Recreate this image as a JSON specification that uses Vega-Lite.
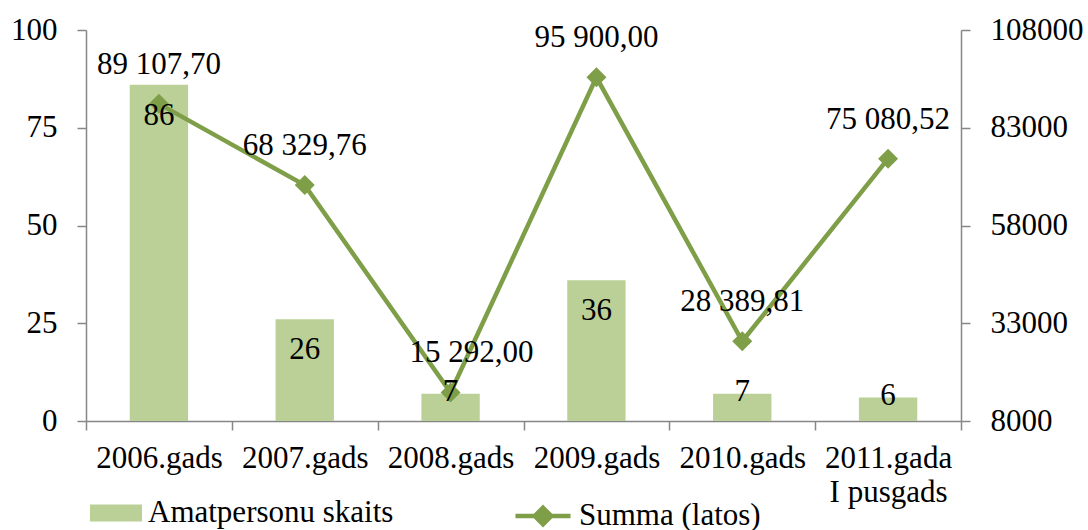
{
  "$schema": "https://vega.github.io/schema/vega-lite/v6.json",
  "width": 875,
  "height": 391,
  "autosize": {"type": "none"},
  "padding": {"left": 86, "top": 30, "right": 127, "bottom": 109},
  "config": {
    "font": "Liberation Serif",
    "view": {"stroke": null},
    "locale": {"number": {"decimal": ",", "thousands": " ", "grouping": [3], "currency": ["", ""]}},
    "axis": {
      "domainColor": "#868686",
      "tickColor": "#868686",
      "domainWidth": 1.5,
      "tickWidth": 1.5,
      "tickSize": 9,
      "labelFont": "Liberation Serif",
      "labelFontSize": 31,
      "labelColor": "#000000",
      "grid": false,
      "title": null
    },
    "legend": {
      "labelFont": "Liberation Serif",
      "labelFontSize": 31,
      "labelColor": "#000000",
      "labelOffset": 6,
      "labelLimit": 500,
      "padding": 0
    }
  },
  "data": {
    "values": [
      {"period": "2006.gads", "amatpersonu": 86, "summa": 89107.70},
      {"period": "2007.gads", "amatpersonu": 26, "summa": 68329.76},
      {"period": "2008.gads", "amatpersonu": 7, "summa": 15292.00},
      {"period": "2009.gads", "amatpersonu": 36, "summa": 95900.00},
      {"period": "2010.gads", "amatpersonu": 7, "summa": 28389.81},
      {"period": "2011.gada I pusgads", "amatpersonu": 6, "summa": 75080.52}
    ]
  },
  "encoding": {
    "x": {
      "field": "period",
      "type": "nominal",
      "sort": null,
      "scale": {
        "domain": ["2006.gads", "2007.gads", "2008.gads", "2009.gads", "2010.gads", "2011.gada I pusgads"],
        "paddingInner": 0,
        "paddingOuter": 0
      },
      "axis": {
        "tickBand": "extent",
        "labelAngle": 0,
        "labelPadding": 13,
        "labelLineHeight": 34,
        "labelOverlap": false,
        "labelExpr": "datum.label == '2011.gada I pusgads' ? ['2011.gada', 'I pusgads'] : datum.label"
      }
    }
  },
  "layer": [
    {
      "mark": {"type": "bar", "width": {"band": 0.4}, "color": "#BAD097"},
      "encoding": {
        "y": {
          "field": "amatpersonu",
          "type": "quantitative",
          "scale": {"domain": [0, 100], "nice": false},
          "axis": {"orient": "left", "values": [0, 25, 50, 75, 100], "labelPadding": 20}
        },
        "fill": {
          "datum": "Amatpersonu skaits",
          "type": "nominal",
          "scale": {"range": ["#BAD097"]},
          "legend": {
            "title": null,
            "orient": "none",
            "legendX": 4,
            "legendY": 457,
            "symbolType": "M-1,-0.327H1V0.327H-1Z",
            "symbolSize": 2704,
            "symbolStrokeWidth": 0
          }
        }
      }
    },
    {
      "encoding": {
        "y": {
          "field": "summa",
          "type": "quantitative",
          "scale": {"domain": [8000, 108000], "nice": false, "zero": false},
          "axis": {"orient": "right", "values": [8000, 33000, 58000, 83000, 108000], "format": "d", "labelPadding": 20}
        }
      },
      "layer": [
        {
          "mark": {"type": "line", "strokeWidth": 4.5, "color": "#7E9E48"},
          "encoding": {
            "stroke": {
              "datum": "Summa (latos)",
              "type": "nominal",
              "scale": {"range": ["#7E9E48"]},
              "legend": {
                "title": null,
                "orient": "none",
                "legendX": 427,
                "legendY": 456,
                "symbolType": "M-1,0H1M0,-0.3L0.3,0L0,0.3L-0.3,0Z",
                "symbolSize": 3025,
                "symbolStrokeWidth": 4.5,
                "encode": {"symbols": {"update": {"fill": {"value": "#7E9E48"}, "strokeWidth": {"value": 4.5}}}}
              }
            }
          }
        },
        {
          "mark": {"type": "point", "shape": "diamond", "filled": true, "size": 400, "color": "#7E9E48", "opacity": 1},
          "encoding": {}
        },
        {
          "transform": [{"filter": "datum.period != '2008.gads'"}],
          "mark": {"type": "text", "fontSize": 31, "baseline": "middle", "dy": -39, "color": "#000000"},
          "encoding": {"text": {"field": "summa", "type": "quantitative", "format": ",.2f"}}
        },
        {
          "transform": [{"filter": "datum.period == '2008.gads'"}],
          "mark": {"type": "text", "fontSize": 31, "baseline": "middle", "dy": -39, "dx": 21, "color": "#000000"},
          "encoding": {"text": {"field": "summa", "type": "quantitative", "format": ",.2f"}}
        }
      ]
    },
    {
      "encoding": {
        "y": {
          "field": "amatpersonu",
          "type": "quantitative",
          "scale": {"domain": [0, 100], "nice": false},
          "axis": null
        }
      },
      "layer": [
        {
          "transform": [{"filter": "datum.amatpersonu > 15"}],
          "mark": {"type": "text", "fontSize": 31, "baseline": "middle", "dy": 31, "color": "#000000"},
          "encoding": {"text": {"field": "amatpersonu", "type": "quantitative"}}
        },
        {
          "transform": [{"filter": "datum.amatpersonu <= 15"}],
          "mark": {"type": "text", "fontSize": 31, "baseline": "middle", "dy": -2, "color": "#000000"},
          "encoding": {"text": {"field": "amatpersonu", "type": "quantitative"}}
        }
      ]
    }
  ],
  "resolve": {"scale": {"y": "independent"}}
}
